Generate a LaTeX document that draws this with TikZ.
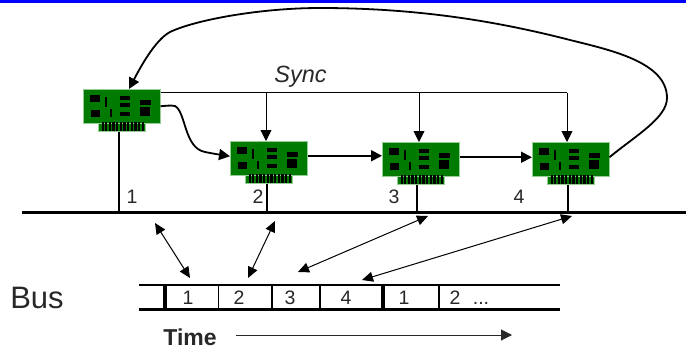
\documentclass[tikz,border=0pt]{standalone}
\usepackage{fontspec}
\setmainfont{Liberation Sans}
\usetikzlibrary{arrows.meta}
\definecolor{cardgreen}{RGB}{0,122,0}
\definecolor{edgegreen}{RGB}{150,205,150}
\definecolor{ink}{RGB}{40,40,40}
\tikzset{
  board/.style={fill=cardgreen,draw=edgegreen,line width=.5pt,minimum width=77pt,minimum height=34pt,inner sep=0pt,anchor=north west},
  strip/.style={fill=cardgreen,draw=edgegreen,line width=.5pt,minimum width=47pt,minimum height=8pt,inner sep=0pt,anchor=north west},
  num/.style={font=\fontsize{19.5}{20}\selectfont,text=ink,inner sep=0pt},
  tip/.style={-{Triangle[length=11pt,width=11pt]}},
  tips/.style={{Triangle[length=11pt,width=10pt]}-{Triangle[length=11pt,width=10pt]},line width=1pt},
  wire/.style={line width=1.8pt,black},
  syncwire/.style={line width=.9pt,black},
  busline/.style={line width=3pt,black},
  slotline/.style={line width=2.4pt,black}
}
\newcommand{\cardat}[3]{%
  \begin{scope}[shift={(#2,#3)}]
    \node[strip] (#1s) at (15,34) {};
    \node[board] (#1) at (0,0) {};
    \fill[black] (7,6.3) rectangle (17,13);
    \fill[black] (22.3,8) rectangle (24.3,17.5);
    \fill[black] (8,20.5) rectangle (17,28);
    \fill[black] (27.3,20) rectangle (29,27.5);
    \fill[black] (37.3,6.5) rectangle (47,10.7);
    \fill[black] (37.3,14) rectangle (47,18);
    \fill[black] (37.3,23) rectangle (47,26.5);
    \fill[black] (57,10.5) rectangle (68,15.5);
    \fill[black] (57,18) rectangle (67,26.5);
    \foreach \t in {0,...,11}{\fill[black] ({18.5+\t*3.65},33) rectangle ({20.7+\t*3.65},42);}
  \end{scope}}
\begin{document}
\begin{tikzpicture}[x=1pt,y=-1pt]
\useasboundingbox (0,0) rectangle (686,348);
\fill[white] (0,0) rectangle (686,348);
\fill[blue] (0,0) rectangle (686,3);
\cardat{ca}{83}{89}
\cardat{cb}{230}{141}
\cardat{cc}{382}{142}
\cardat{cd}{532}{142}
% bus
\coordinate (busL) at (22,212);
\coordinate (busR) at (686,212);
\draw[busline] (busL) -- (busR);
\draw[wire] ([xshift=-3pt]cas.south) -- ([xshift=-3pt]cas.south |- busL);
\draw[wire] ([xshift=-2pt]cbs.south) -- ([xshift=-2pt]cbs.south |- busL);
\draw[wire] ([xshift=-3.5pt]ccs.south) -- ([xshift=-3.5pt]ccs.south |- busL);
\draw[wire] ([xshift=-2.5pt]cds.south) -- ([xshift=-2.5pt]cds.south |- busL);
% sync
\coordinate (syncEnd) at (567,92.5);
\draw[syncwire] ([yshift=-3.5pt]ca.north east) -- (syncEnd);
\coordinate (sb) at (266,92.5);
\coordinate (sc) at (419,92.5);
\draw[syncwire,tip] (sb) -- (sb |- cb.north);
\draw[syncwire,tip] (sc) -- (sc |- cc.north);
\draw[syncwire,tip] (syncEnd) -- (syncEnd |- cd.north);
\node[inner sep=0pt,font=\fontsize{23.5}{25}\itshape,text=ink] (synclabel) at (300.5,77) {Sync};
% data chain
\draw[wire,tip] (ca.east) .. controls (165,106) and (170,105) .. (175,106) .. controls (186,112) and (184,148) .. (205,152) .. controls (215,154) and (222,155) .. ([yshift=2pt]cb.west);
\draw[wire,tip] ([yshift=2.5pt]cb.east) -- ([yshift=3.5pt]cc.west);
\draw[wire,tip] ([yshift=2pt]cc.east) -- ([yshift=2pt]cd.west);
\coordinate (backEnd) at (129,89);
\draw[wire,tip] ([yshift=2pt]cd.east) .. controls (635,136) and (667,118) .. (667,98) .. controls (667,62) and (610,50) .. (570,40)
  .. controls (500,22) and (420,8) .. (320,8) .. controls (260,8) and (195,20) .. (170,32) .. controls (155,40) and (140,68) .. (backEnd);
% labels near bus
\node[num] (n1) at (132,196.5) {1};
\node[num] (n2) at (258,196.5) {2};
\node[num] (n3) at (394,196.5) {3};
\node[num] (n4) at (519,196.5) {4};
% time slots
\coordinate (tl) at (139,285);
\coordinate (tr) at (560,285);
\coordinate (bl) at (139,309.5);
\coordinate (br) at (560,309.5);
\draw[slotline] (tl) -- (tr);
\draw[slotline] (bl) -- (br);
\foreach \x in {218.5,272,320,439}{\draw[line width=1.2pt,black] (\x,285) -- (\x,309.5);}
\foreach \x in {165,383}{\draw[line width=3.8pt,black] (\x,285) -- (\x,309.5);}
\node[num] (s1) at (188,298) {1};
\node[num] (s2) at (239,298) {2};
\node[num] (s3) at (290,298) {3};
\node[num] (s4) at (346,298) {4};
\node[num] (s5) at (404,298) {1};
\node[num] (s6) at (455,298) {2};
\node[num,anchor=base] (s7) at (481,304) {...};
\node[inner sep=0pt,font=\fontsize{31}{33}\selectfont,text=ink] (buslabel) at (37,298) {Bus};
\node[inner sep=0pt,font=\fontsize{23}{25}\selectfont\bfseries,text=ink] (timelabel) at (190,337) {Time};
% double arrows
\coordinate (a1) at (155,223); \coordinate (a2) at (190,278);
\coordinate (b1) at (275,221); \coordinate (b2) at (248,278);
\coordinate (c1) at (428,216); \coordinate (c2) at (298,272);
\coordinate (d1) at (572,216); \coordinate (d2) at (362,280);
\draw[tips] (a1) -- (a2);
\draw[tips] (b1) -- (b2);
\draw[tips] (c1) -- (c2);
\draw[tips] (d1) -- (d2);
% time arrow
\coordinate (t1) at (236,335);
\coordinate (t2) at (512,335);
\draw[line width=1pt,draw=ink,-{Triangle[length=11pt,width=11pt]}] (t1) -- (t2);
\end{tikzpicture}
\end{document}
